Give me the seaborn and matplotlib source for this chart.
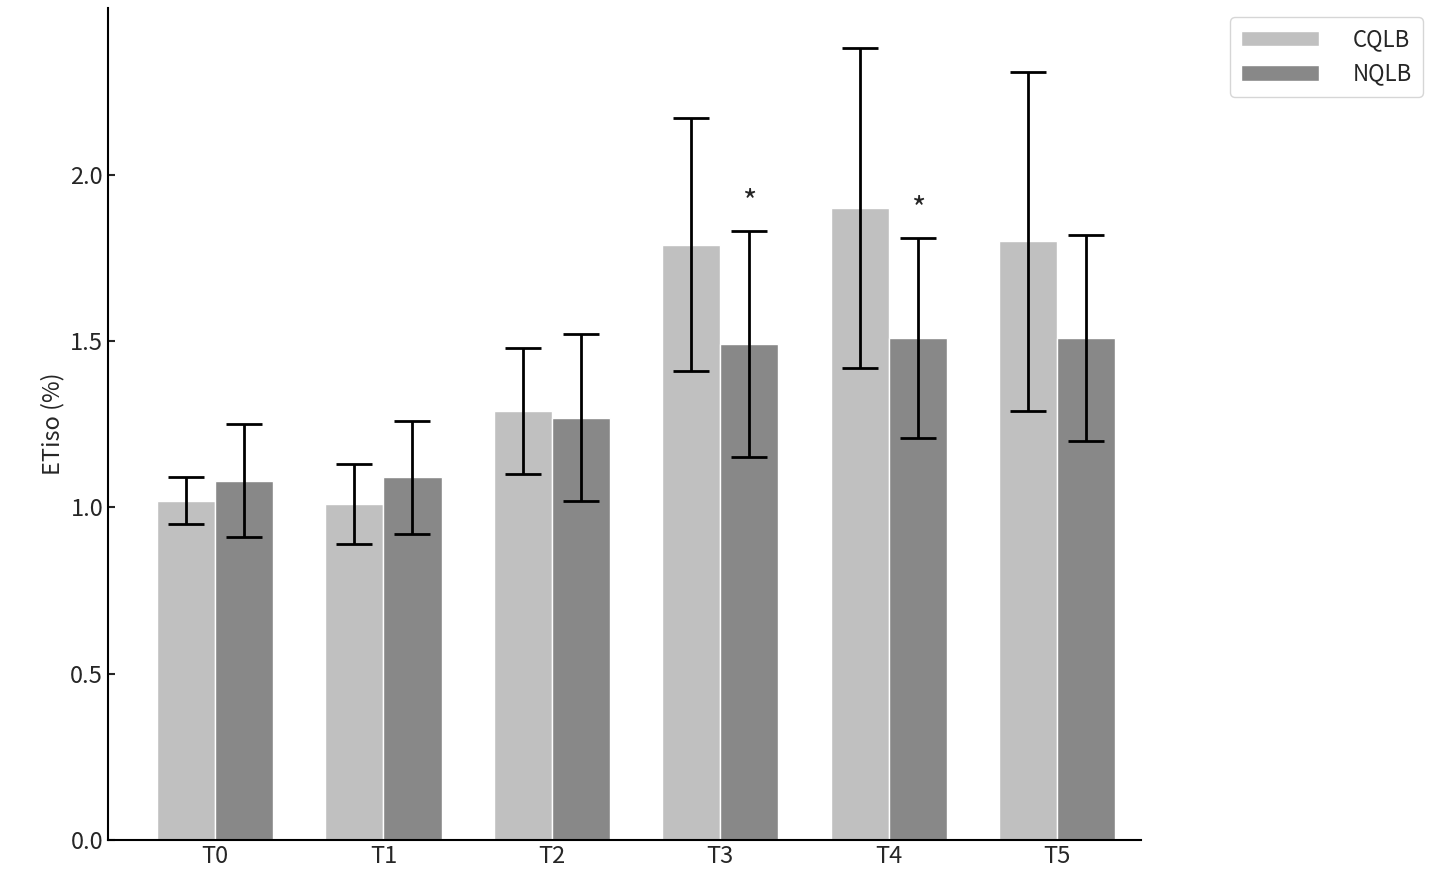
import matplotlib
matplotlib.use("Agg")
import matplotlib.pyplot as plt
import seaborn as sb
import pandas as pd
import numpy as np

sb.set_theme(style="ticks")
plt.rcParams['font.family'] = ['Noto Sans CJK JP', 'DejaVu Sans']

times = ['T0', 'T1', 'T2', 'T3', 'T4', 'T5']
cqlb_mean = [1.02, 1.01, 1.29, 1.79, 1.90, 1.80]
cqlb_err = [0.07, 0.12, 0.19, 0.38, 0.48, 0.51]
nqlb_mean = [1.08, 1.09, 1.27, 1.49, 1.51, 1.51]
nqlb_err = [0.17, 0.17, 0.25, 0.34, 0.30, 0.31]
star_times = ['T3', 'T4']

df = pd.DataFrame({
    'time': times * 2,
    'group': ['CQLB'] * 6 + ['NQLB'] * 6,
    'value': cqlb_mean + nqlb_mean,
    'err': cqlb_err + nqlb_err,
})

fig = plt.figure(figsize=(14.41, 8.81), dpi=100)
ax = fig.add_axes([0.075, 0.0465, 0.717, 0.944])
sb.barplot(data=df, x='time', y='value', hue='group', palette=['#c0c0c0', '#888888'],
           width=0.69, errorbar=None, ax=ax, saturation=1)

# error bars on bar centres
for cont, g in zip(ax.containers, ['CQLB', 'NQLB']):
    sub = df[df['group'] == g]
    xs = [p.get_x() + p.get_width() / 2 for p in cont.patches]
    ax.errorbar(xs, sub['value'], yerr=sub['err'], fmt='none', ecolor='black',
                elinewidth=2, capsize=13, capthick=2)
    if g == 'NQLB':
        for x, t, v, e in zip(xs, sub['time'], sub['value'], sub['err']):
            if t in star_times:
                ax.text(x, v + e + 0.04, '*', ha='center', va='bottom', fontsize=22)

ax.set_xlim(-0.635, 5.5)
ax.set_ylim(0, 2.5)
ax.set_yticks([0.0, 0.5, 1.0, 1.5, 2.0])
ax.set_yticklabels(['0.0', '0.5', '1.0', '1.5', '2.0'])
ax.tick_params(direction='in', labelsize=17, length=5, width=1.5)
ax.set_xlabel('')
ax.set_ylabel('ETiso (%)', fontsize=17)
for s in ['top', 'right']:
    ax.spines[s].set_visible(False)
for s in ['left', 'bottom']:
    ax.spines[s].set_linewidth(1.5)
    ax.spines[s].set_color('black')

ax.legend(title=None, loc='upper right', bbox_to_anchor=(0.995, 0.993),
          bbox_transform=fig.transFigure, fontsize=16, frameon=True,
          fancybox=True, handlelength=3.5, handletextpad=1.5, borderpad=0.5)
fig.savefig('out.png', dpi=100)
